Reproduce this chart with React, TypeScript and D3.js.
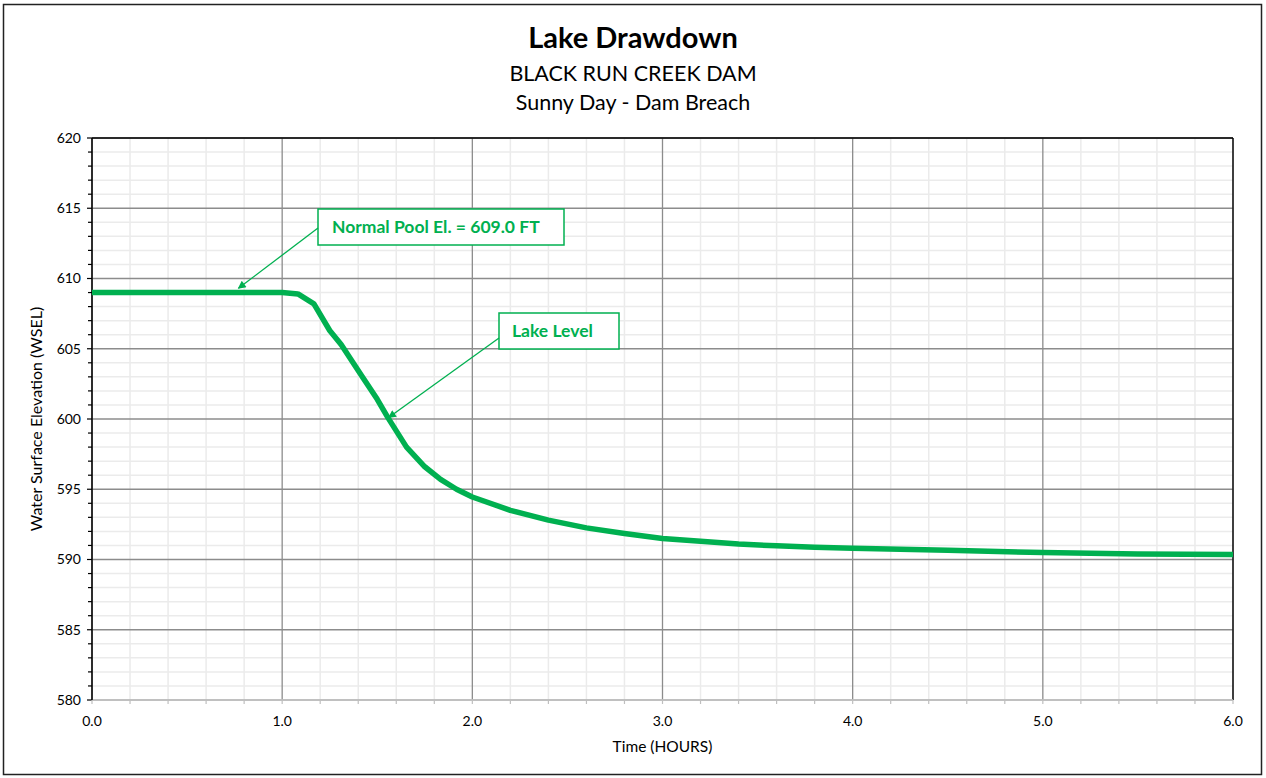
import React from "react";
import * as d3 from "d3";

const hours = [0, 0.5, 1.0, 1.083, 1.167, 1.25, 1.31, 1.417, 1.5, 1.556, 1.654, 1.75, 1.833, 1.917, 2.0, 2.2, 2.4, 2.6, 2.8, 3.0, 3.2, 3.4, 3.6, 3.8, 4.0, 4.5, 5.0, 5.5, 6.0];
const wsel = [609.0, 609.0, 609.0, 608.9, 608.2, 606.3, 605.3, 603.1, 601.4, 600.1, 598.0, 596.6, 595.7, 595.0, 594.45, 593.5, 592.8, 592.25, 591.85, 591.5, 591.3, 591.1, 590.97, 590.88, 590.8, 590.65, 590.5, 590.4, 590.35];

const xTicks = [0, 1, 2, 3, 4, 5, 6];
const yTicks = [580, 585, 590, 595, 600, 605, 610, 615, 620];

const titleText = "Lake Drawdown";
const subtitle1 = "BLACK RUN CREEK DAM";
const subtitle2 = "Sunny Day - Dam Breach";
const xLabel = "Time (HOURS)";
const yLabel = "Water Surface Elevation (WSEL)";
const note1 = { text: "Normal Pool El. = 609.0 FT", t: 0.77, v: 609.3 };
const note2 = { text: "Lake Level", t: 1.56, v: 600.1 };

const W = 1266, H = 778;
const L = 92, R = 1233, T = 138, B = 700;
const GREEN = "#00b050";
const FONT = "Lato, 'Open Sans', sans-serif";

export default function App() {
  const x = d3.scaleLinear().domain([0, 6]).range([L, R]);
  const y = d3.scaleLinear().domain([580, 620]).range([B, T]);
  const line = d3.line<number>().x((_, i) => x(hours[i])).y((d) => y(d)).curve(d3.curveLinear);

  const minorX = d3.range(0, 6.0001, 0.2).filter((v) => Math.abs(v - Math.round(v)) > 1e-6);
  const minorY = d3.range(580, 620.0001, 1).filter((v) => v % 5 !== 0);

  const box1 = { x: 318, y: 209, w: 246, h: 36 };
  const box2 = { x: 499, y: 313, w: 120, h: 36 };

  return (
    <svg width={W} height={H} style={{ position: "absolute", left: 0, top: 0, background: "#fff" }} fontFamily={FONT}>
      <defs>
        <marker id="ah" viewBox="0 0 10 10" refX="9" refY="5" markerWidth="10" markerHeight="8" markerUnits="userSpaceOnUse" orient="auto">
          <path d="M0,0 L10,5 L0,10 z" fill={GREEN} />
        </marker>
      </defs>
      <rect x={3.5} y={4.5} width={1258} height={770} fill="#fff" stroke="#222" strokeWidth={1.5} />
      {/* minor grid */}
      {minorX.map((v) => (
        <line key={"mx" + v} x1={x(v)} x2={x(v)} y1={T} y2={B} stroke="#ebebeb" strokeWidth={1.5} />
      ))}
      {minorY.map((v) => (
        <line key={"my" + v} x1={L} x2={R} y1={y(v)} y2={y(v)} stroke="#ebebeb" strokeWidth={1.5} />
      ))}
      {/* major grid */}
      {xTicks.map((v) => (
        <line key={"gx" + v} x1={x(v)} x2={x(v)} y1={T} y2={B} stroke="#8c8c8c" strokeWidth={1.3} />
      ))}
      {yTicks.map((v) => (
        <line key={"gy" + v} x1={L} x2={R} y1={y(v)} y2={y(v)} stroke="#8c8c8c" strokeWidth={1.3} />
      ))}
      {/* plot border */}
      <line x1={L} x2={R} y1={T} y2={T} stroke="#000" strokeWidth={1.3} />
      <line x1={R} x2={R} y1={T} y2={B} stroke="#000" strokeWidth={1.3} />
      <line x1={L} x2={R} y1={B} y2={B} stroke="#c8c8c8" strokeWidth={1.5} />
      <line x1={L} x2={L} y1={T} y2={B} stroke="#000" strokeWidth={1.5} />
      {/* y ticks */}
      {d3.range(580, 620.0001, 1).map((v) => (
        <line key={"ty" + v} x1={L - (v % 5 === 0 ? 5 : 4)} x2={L} y1={y(v)} y2={y(v)} stroke="#000" strokeWidth={1.2} />
      ))}
      {yTicks.map((v) => (
        <text key={"ly" + v} x={L - 11} y={y(v)} dy="0.35em" textAnchor="end" fontSize={14} fill="#000">{v}</text>
      ))}
      {/* x ticks */}
      {d3.range(0, 6.0001, 0.2).map((v) => (
        <line key={"tx" + v} x1={x(v)} x2={x(v)} y1={B} y2={B + 4} stroke="#bfbfbf" strokeWidth={1.2} />
      ))}
      {xTicks.map((v) => (
        <text key={"lx" + v} x={x(v)} y={B + 26} textAnchor="middle" fontSize={14} fill="#000">{v.toFixed(1)}</text>
      ))}
      {/* data line */}
      <path d={line(wsel) || ""} fill="none" stroke={GREEN} strokeWidth={5.5} strokeLinejoin="round" />
      {/* annotations */}
      <rect x={box1.x} y={box1.y} width={box1.w} height={box1.h} fill="#fff" stroke={GREEN} strokeWidth={1.5} />
      <text x={box1.x + 14} y={box1.y + box1.h / 2} dy="0.36em" textAnchor="start" fontSize={17.5} fontWeight="bold" fill={GREEN}>{note1.text}</text>
      <line x1={box1.x} y1={box1.y + 19} x2={x(note1.t)} y2={y(note1.v)} stroke={GREEN} strokeWidth={1.3} markerEnd="url(#ah)" />
      <rect x={box2.x} y={box2.y} width={box2.w} height={box2.h} fill="#fff" stroke={GREEN} strokeWidth={1.5} />
      <text x={box2.x + 13} y={box2.y + box2.h / 2} dy="0.36em" textAnchor="start" fontSize={17.5} fontWeight="bold" fill={GREEN}>{note2.text}</text>
      <line x1={box2.x} y1={box2.y + 25} x2={x(note2.t)} y2={y(note2.v)} stroke={GREEN} strokeWidth={1.3} markerEnd="url(#ah)" />
      {/* titles */}
      <text x={633} y={48} textAnchor="middle" fontSize={29} fontWeight="bold" fill="#000">{titleText}</text>
      <text x={633} y={81} textAnchor="middle" fontSize={21.5} fill="#000">{subtitle1}</text>
      <text x={633} y={110} textAnchor="middle" fontSize={21.5} fill="#000">{subtitle2}</text>
      <text x={(L + R) / 2} y={752} textAnchor="middle" fontSize={15.5} fill="#000">{xLabel}</text>
      <text transform={`translate(42,${(T + B) / 2}) rotate(-90)`} textAnchor="middle" fontSize={16} fill="#000">{yLabel}</text>
    </svg>
  );
}
